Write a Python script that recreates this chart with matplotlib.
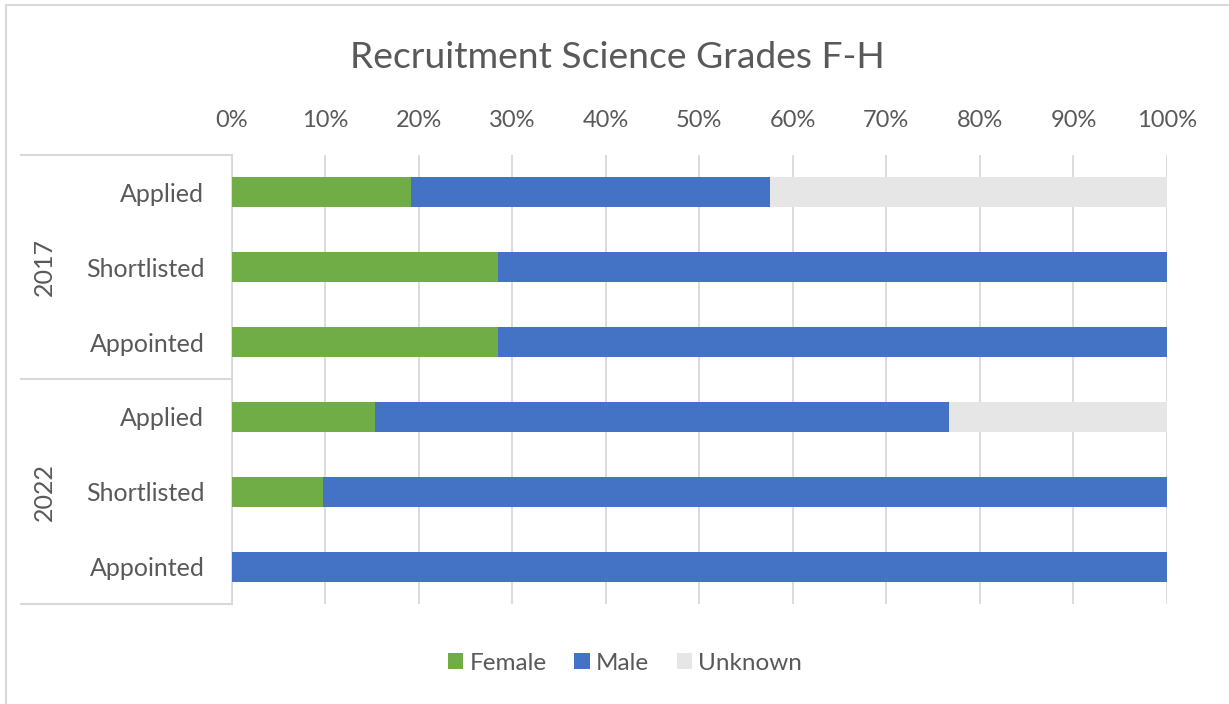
"""Recruitment science grades F-H, stacked 100% bars"""

import matplotlib
matplotlib.use("Agg")
import matplotlib.pyplot as plt
import matplotlib.transforms as mtransforms
import numpy as np

years = ["2017", "2022"]
stages = ["Applied", "Shortlisted", "Appointed"]

# percentages, rows = 2017 Applied .. 2022 Appointed
female = [19.2, 28.5, 28.5, 15.3, 9.8, 0.0]
male = [38.4, 71.5, 71.5, 61.4, 90.2, 100.0]
unknown = [42.4, 0.0, 0.0, 23.3, 0.0, 0.0]

GREEN = "#70AD47"
BLUE = "#4472C4"
GREY = "#E7E6E6"
TEXT = "#595959"
GRID = "#D9D9D9"

plt.rcParams["font.family"] = ["Lato", "DejaVu Sans"]

fig = plt.figure(figsize=(12.29, 7.04), dpi=100)
ax = fig.add_axes([231.5 / 1229, 1 - 604 / 704, (1167 - 231.5) / 1229, (604 - 155) / 704])

y = np.arange(len(female))
left = np.zeros(len(female))
for vals, col, name in [(female, GREEN, "Female"), (male, BLUE, "Male"), (unknown, GREY, "Unknown")]:
    ax.barh(y, vals, left=left, height=0.4, color=col, label=name, zorder=3)
    left = left + np.array(vals)

ax.set_xlim(0, 100)
ax.set_ylim(5.5, -0.5)

#ticks on top like the excel chart
ax.xaxis.tick_top()
ax.set_xticks(np.arange(0, 101, 10))
ax.set_xticklabels([f"{v}%" for v in range(0, 101, 10)], fontsize=17, color=TEXT)
ax.tick_params(axis="x", length=0, pad=17)
ax.grid(axis="x", color=GRID, linewidth=1.3, zorder=0)

ax.set_yticks(y)
ax.set_yticklabels(stages * len(years), fontsize=18, color=TEXT)
ax.tick_params(axis="y", length=0, pad=19.5)

for side in ["top", "right", "bottom"]:
    ax.spines[side].set_visible(False)
ax.spines["left"].set_color(GRID)
ax.spines["left"].set_linewidth(1.3)

#group separators and year labels on the left
trans = mtransforms.blended_transform_factory(ax.transAxes, ax.transData)
for sep in [-0.5, 2.5, 5.5]:
    ax.plot([-0.225, 0], [sep, sep], color=GRID, linewidth=1.5, transform=trans, clip_on=False)
for i, yr in enumerate(years):
    ax.text(-0.2005, i * 3 + 1, yr, rotation=90, ha="center", va="center",
            fontsize=18, color=TEXT, transform=trans)

fig.text(617 / 1229, 1 - 57 / 704, "Recruitment Science Grades F-H", ha="center", va="center",
         fontsize=26.8, color=TEXT)

fig.legend(loc="center", bbox_to_anchor=(625 / 1229, 1 - 663 / 704), ncol=3, frameon=False,
           fontsize=17.5, labelcolor=TEXT, handlelength=0.62, handleheight=0.62,
           handletextpad=0.25, columnspacing=1.15)

#outer chart border
fig.patches.append(plt.Rectangle((6 / 1229, -0.1), 1.2, 1 - 5 / 704 + 0.1, transform=fig.transFigure,
                                 fill=False, edgecolor=GRID, linewidth=1.5))

plt.savefig("out.png")
